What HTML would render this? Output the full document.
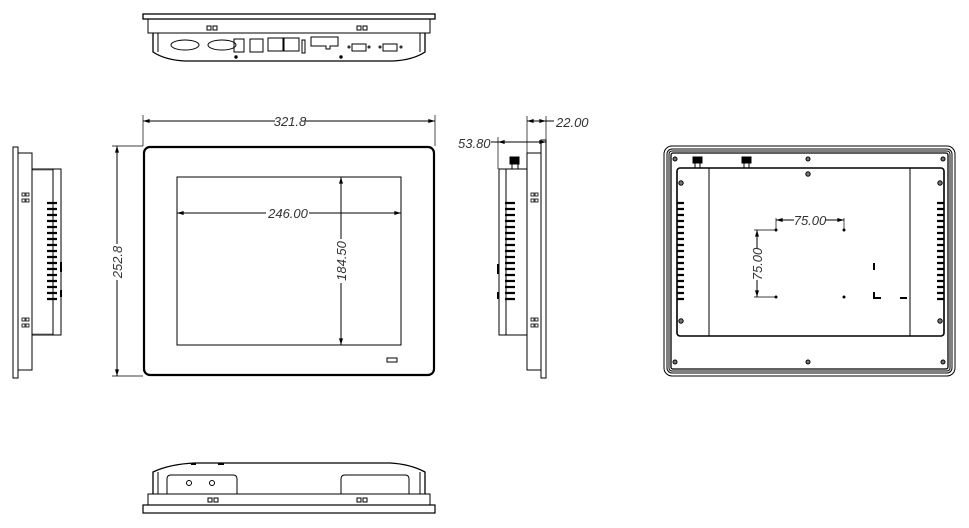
<!DOCTYPE html>
<html><head><meta charset="utf-8"><style>html,body{margin:0;padding:0;background:#fff}svg{display:block}text{font-family:"Liberation Sans",sans-serif;font-style:italic;font-size:13px;fill:#333;stroke:none}</style></head>
<body>
<svg width="969" height="528" viewBox="0 0 969 528" xmlns="http://www.w3.org/2000/svg" fill="none" stroke="#000" stroke-width="1">
<defs>
<marker id="a" viewBox="0 0 10 6" refX="10" refY="3" markerWidth="8" markerHeight="4" orient="auto-start-reverse"><path d="M0,0L10,3L0,6z" fill="#000" stroke="none"/></marker>
</defs>
<!-- TOP VIEW -->
<rect x="143" y="14" width="292" height="5" stroke-width="1.3"/>
<rect x="148" y="19" width="282" height="14"/>
<path d="M153,33 V52 Q165,60 185,61 H393 Q413,60 425,52 V33" stroke-width="1.3"/>
<path d="M158,33 V52 M420,33 V52 M185,61 H393"/>
<rect x="207" y="26" width="4" height="4"/><rect x="213" y="26" width="4" height="4"/>
<rect x="357" y="26" width="4" height="4"/><rect x="363" y="26" width="4" height="4"/>
<ellipse cx="185" cy="45" rx="14" ry="5"/><ellipse cx="222" cy="45" rx="14" ry="5"/>
<rect x="234" y="39" width="10" height="13"/><rect x="250" y="39" width="13" height="13"/>
<rect x="268" y="38" width="15" height="13"/><rect x="284" y="38" width="15" height="13"/>
<rect x="302" y="40" width="3" height="13"/>
<path d="M311,37 H338 V46 H330 V49 H326 V46 H311 Z"/>
<rect x="352" y="44" width="14" height="7"/><rect x="383" y="44" width="14" height="7"/>
<circle cx="349" cy="47" r="1"/><circle cx="369" cy="47" r="1"/><circle cx="380" cy="47" r="1"/><circle cx="401" cy="47" r="1"/>
<circle cx="236" cy="57" r="1.2" fill="#000"/><circle cx="341" cy="57" r="1.2" fill="#000"/>
<!-- FRONT VIEW -->
<rect x="144" y="147" width="290" height="228" rx="6" stroke-width="2.2"/>
<rect x="177" y="177" width="224" height="168"/>
<rect x="387" y="358" width="10" height="4"/>
<path d="M143,115 V146 M435,115 V146" stroke-width="0.7"/>
<line x1="143" y1="121" x2="275" y2="121" marker-start="url(#a)"/><line x1="305" y1="121" x2="435" y2="121" marker-end="url(#a)"/>
<text x="290" y="126" text-anchor="middle">321.8</text>
<path d="M112,146 H143 M112,376 H143" stroke-width="0.7"/>
<line x1="117" y1="146" x2="117" y2="244" marker-start="url(#a)"/><line x1="117" y1="280" x2="117" y2="376" marker-end="url(#a)"/>
<text transform="translate(122,262) rotate(-90)" text-anchor="middle">252.8</text>
<line x1="177" y1="213" x2="266" y2="213" marker-start="url(#a)"/><line x1="309" y1="213" x2="401" y2="213" marker-end="url(#a)"/>
<text x="288" y="218" text-anchor="middle">246.00</text>
<line x1="341" y1="177" x2="341" y2="239" marker-start="url(#a)"/><line x1="341" y1="283" x2="341" y2="345" marker-end="url(#a)"/>
<text transform="translate(346,261) rotate(-90)" text-anchor="middle">184.50</text>
<!-- LEFT SIDE -->
<rect x="13" y="147" width="5" height="231"/>
<rect x="18" y="153" width="14" height="217"/>
<path d="M32,169 H53 M32,335 H53"/><path d="M32,170 H53 M32,334 H53" stroke-width="0.5"/>
<rect x="53" y="169" width="8" height="166"/>
<g stroke-width="0.8">
<rect x="22" y="193" width="3" height="3"/><rect x="26" y="193" width="3" height="3"/><rect x="22" y="199" width="3" height="3"/><rect x="26" y="199" width="3" height="3"/>
<rect x="22" y="318" width="3" height="3"/><rect x="26" y="318" width="3" height="3"/><rect x="22" y="324" width="3" height="3"/><rect x="26" y="324" width="3" height="3"/>
</g>
<g stroke-width="2.2"><path d="M47,203H57M47,209H57M47,215H57M47,221H57M47,227H57M47,233H57M47,239H57M47,245H57M47,251H57M47,257H57M47,263H57M47,269H57M47,275H57M47,281H57M47,287H57M47,293H57M47,299H57"/></g>
<path d="M61,262V272M61,290V297" stroke-width="2"/>
<!-- RIGHT SIDE -->
<rect x="541" y="140" width="5" height="238"/>
<rect x="527" y="153" width="14" height="217"/>
<path d="M506,169 H527 M506,335 H527"/>
<rect x="499" y="169" width="7" height="166"/>
<rect x="510" y="157" width="9" height="7" fill="#000"/><path d="M512,164V169M518,164V169"/>
<g stroke-width="0.8">
<rect x="531" y="193" width="3" height="3"/><rect x="535" y="193" width="3" height="3"/><rect x="531" y="199" width="3" height="3"/><rect x="535" y="199" width="3" height="3"/>
<rect x="531" y="318" width="3" height="3"/><rect x="535" y="318" width="3" height="3"/><rect x="531" y="324" width="3" height="3"/><rect x="535" y="324" width="3" height="3"/>
</g>
<g stroke-width="2.2"><path d="M505,203H515M505,209H515M505,215H515M505,221H515M505,227H515M505,233H515M505,239H515M505,245H515M505,251H515M505,257H515M505,263H515M505,269H515M505,275H515M505,281H515M505,287H515M505,293H515M505,299H515"/></g>
<path d="M498,264V274M498,292V299" stroke-width="2"/>
<path d="M527,116V153M546,116V140M498,137V169" stroke-width="0.7"/>
<line x1="527" y1="121" x2="546" y2="121" marker-start="url(#a)" marker-end="url(#a)"/><line x1="546" y1="121" x2="554" y2="121"/>
<text x="556" y="127">22.00</text>
<line x1="498" y1="142" x2="546" y2="142" marker-start="url(#a)" marker-end="url(#a)"/><line x1="491" y1="142" x2="498" y2="142"/>
<text x="458" y="148">53.80</text>
<!-- REAR VIEW -->
<rect x="664" y="146" width="291" height="230" rx="8"/>
<rect x="667" y="149" width="285" height="224" rx="5"/>
<rect x="669" y="151" width="281" height="220" rx="3"/>
<rect x="671" y="153" width="277" height="216" rx="2" stroke-width="1.3"/>
<rect x="677" y="168" width="267" height="168" rx="3" stroke-width="1.6"/>
<path d="M709,168V336M910,168V336"/>
<rect x="693" y="157" width="9" height="6" fill="#000"/><path d="M695,163V168M700,163V168"/>
<rect x="742" y="157" width="9" height="6" fill="#000"/><path d="M744,163V168M749,163V168"/>
<g fill="#777"><circle cx="675" cy="159" r="2"/><circle cx="808" cy="159" r="2"/><circle cx="943" cy="159" r="2"/><circle cx="808" cy="174" r="2.2"/>
<circle cx="681" cy="183" r="2.2"/><circle cx="940" cy="183" r="2.2"/><circle cx="681" cy="321" r="2.2"/><circle cx="940" cy="321" r="2.2"/>
<circle cx="675" cy="362" r="2"/><circle cx="808" cy="362" r="2"/><circle cx="943" cy="362" r="2"/></g>
<g stroke-width="2.2"><path d="M677,203H684M677,209H684M677,215H684M677,221H684M677,227H684M677,233H684M677,239H684M677,245H684M677,251H684M677,257H684M677,263H684M677,269H684M677,275H684M677,281H684M677,287H684M677,293H684M677,299H684"/>
<path d="M937,203H944M937,209H944M937,215H944M937,221H944M937,227H944M937,233H944M937,239H944M937,245H944M937,251H944M937,257H944M937,263H944M937,269H944M937,275H944M937,281H944M937,287H944M937,293H944M937,299H944"/></g>
<g fill="#000"><circle cx="776" cy="230" r="1"/><circle cx="844" cy="230" r="1"/><circle cx="776" cy="297" r="1"/><circle cx="844" cy="297" r="1"/></g>
<path d="M776,218V230M844,218V230M754,230H776M754,297H776" stroke-width="0.7"/>
<line x1="776" y1="220" x2="794" y2="220" marker-start="url(#a)"/><line x1="826" y1="220" x2="844" y2="220" marker-end="url(#a)"/>
<text x="810" y="225" text-anchor="middle">75.00</text>
<line x1="757" y1="230" x2="757" y2="248" marker-start="url(#a)"/><line x1="757" y1="280" x2="757" y2="297" marker-end="url(#a)"/>
<text transform="translate(762,264) rotate(-90)" text-anchor="middle">75.00</text>
<path d="M874,263V270M874,292V298H881M900,298H907" stroke-width="2"/>
<!-- BOTTOM VIEW -->
<rect x="143" y="505" width="292" height="8" stroke-width="1.2"/>
<rect x="148" y="494" width="282" height="11"/>
<path d="M153,494V472 Q170,464 195,463 H390 Q410,464 425,472 V494" stroke-width="1.3"/>
<path d="M158,494V472M420,494V472"/>
<path d="M167,494V479 Q167,475 171,475 H233 Q237,475 237,479 V494"/>
<path d="M341,494V479 Q341,475 345,475 H405 Q409,475 409,479 V494"/>
<circle cx="189" cy="483" r="2.5"/><circle cx="212" cy="483" r="2.5"/>
<rect x="208" y="498" width="4" height="4"/><rect x="214" y="498" width="4" height="4"/>
<rect x="357" y="498" width="4" height="4"/><rect x="363" y="498" width="4" height="4"/>
<path d="M191,464H196M218,464H224" stroke-width="2"/>
</svg>
</body></html>
